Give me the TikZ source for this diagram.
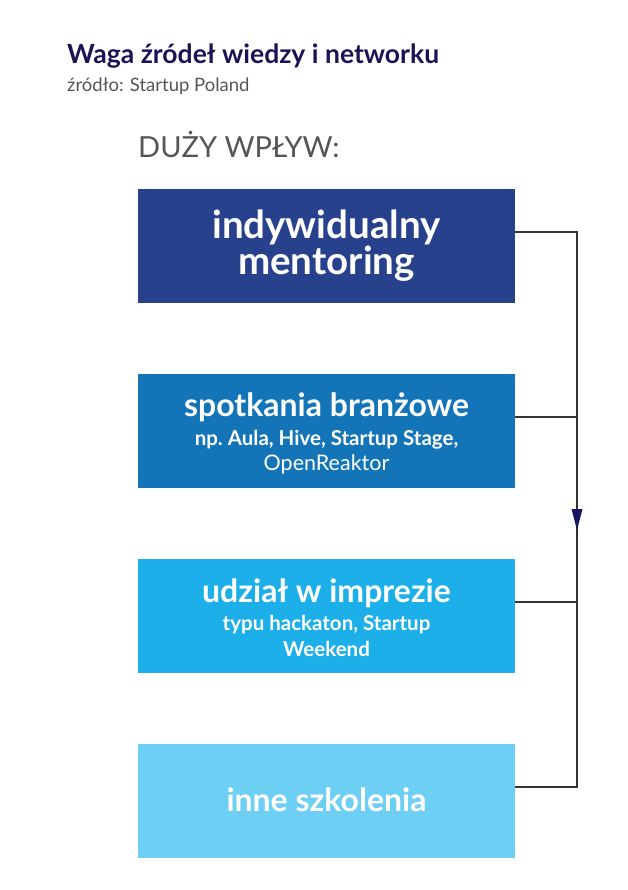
\documentclass[tikz,border=0pt]{standalone}
\usepackage{fontspec}
\setmainfont{Lato}
\usetikzlibrary{arrows.meta}
\definecolor{titlec}{HTML}{1B1356}
\definecolor{grayt}{HTML}{555555}
\definecolor{cA}{HTML}{28418C}
\definecolor{cB}{HTML}{1375B8}
\definecolor{cC}{HTML}{1DAFEA}
\definecolor{cD}{HTML}{6ECFF5}
\definecolor{linec}{HTML}{333333}
\definecolor{arrowc}{HTML}{1A1560}
\tikzset{
  box/.style={minimum width=377pt, minimum height=114pt, inner sep=0pt, anchor=north west},
  conn/.style={draw=linec, line width=1.1pt},
  lbl/.style={anchor=base, inner sep=0pt, text=white},
  head/.style={lbl, font=\fontsize{32}{34}\selectfont\bfseries},
  subb/.style={lbl, font=\fontsize{20.5}{23}\selectfont\bfseries},
  subr/.style={lbl, font=\fontsize{21.5}{23}\selectfont},
}
\begin{document}
\begin{tikzpicture}[x=1pt,y=-1pt]
\useasboundingbox (0,0) rectangle (628,890);
\node[anchor=base west, inner sep=0pt, text=titlec, font=\fontsize{26.5}{28}\selectfont\bfseries] (title) at (67,64) {Waga źródeł wiedzy i networku};
\node[anchor=base west, inner sep=0pt, text=grayt, font=\fontsize{18.5}{20}\selectfont] (src) at (67,92) {źródło: Startup Poland};
\node[anchor=base west, inner sep=0pt, text=grayt, font=\fontsize{29}{32}\selectfont] (big) at (138,158) {DUŻY WPŁYW:};

\node[box, fill=cA] (b1) at (138,189) {};
\node[box, fill=cB] (b2) at (138,374) {};
\node[box, fill=cC] (b3) at (138,559) {};
\node[box, fill=cD] (b4) at (138,744) {};

\node[lbl, font=\fontsize{38.5}{40}\selectfont\bfseries] (t1a) at (326.5,239) {indywidualny};
\node[lbl, font=\fontsize{38.5}{40}\selectfont\bfseries] (t1b) at (326.5,275) {mentoring};

\node[head] (t2a) at (326.5,416) {spotkania branżowe};
\node[subb] (t2b) at (326.5,445) {np.\ Aula, Hive, Startup Stage,};
\node[subr] (t2c) at (326.5,470) {OpenReaktor};

\node[head] (t3a) at (326.5,602) {udział w imprezie};
\node[subb] (t3b) at (326.5,630) {typu hackaton, Startup};
\node[subb] (t3c) at (326.5,656) {Weekend};

\node[head] (t4) at (326.5,811) {inne szkolenia};

\coordinate (r1) at (577,232);
\coordinate (r2) at (577,417);
\coordinate (r3) at (577,602);
\coordinate (r4) at (577,787);
\coordinate (am) at (577,530);

\draw[conn] (b1.east |- r1) -- (r1) -- (r4) -- (b4.east |- r4);
\draw[conn] (b2.east |- r2) -- (r2);
\draw[conn] (b3.east |- r3) -- (r3);
\fill[arrowc] (571.5,509) -- (582.5,509) -- (am) -- cycle;
\end{tikzpicture}
\end{document}
